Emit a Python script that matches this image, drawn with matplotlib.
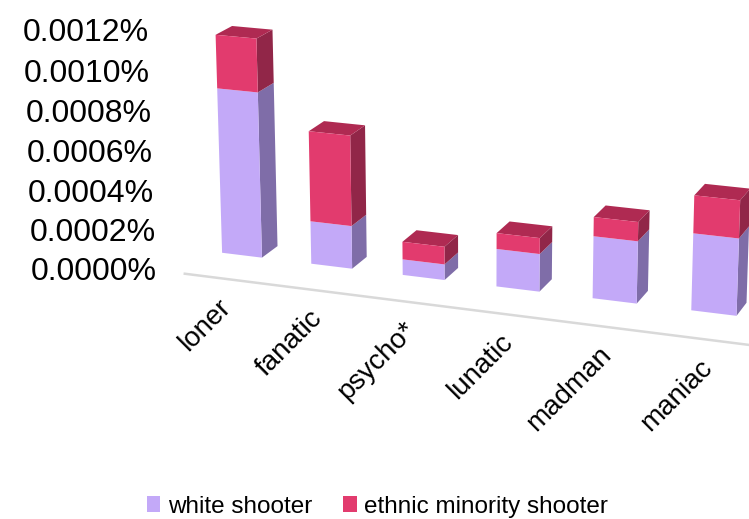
import numpy as np
import matplotlib
matplotlib.use('Agg')
import matplotlib.pyplot as plt
from matplotlib.patches import Patch
from mpl_toolkits.mplot3d import proj3d

# ---- data ----
categories = ['loner', 'fanatic', 'psycho*', 'lunatic', 'madman', 'maniac']
white_shooter = [0.00085, 0.00022, 0.00008, 0.00019, 0.00031, 0.00038]
minority_shooter = [0.00027, 0.00046, 0.00009, 0.00008, 0.000095, 0.000185]
series_names = ['white shooter', 'ethnic minority shooter']
ytick_values = [0.0, 0.0002, 0.0004, 0.0006, 0.0008, 0.0010, 0.0012]
ytick_labels = ['0.0000%', '0.0002%', '0.0004%', '0.0006%', '0.0008%', '0.0010%', '0.0012%']

plt.rcParams['font.family'] = ['Liberation Sans', 'DejaVu Sans']

# face colours: bottom, top, front, back, left, right
NONE = (1, 1, 1, 0)
white_faces = {'front': '#C3A9F8', 'top': '#A992DA', 'right': '#7F6DA8'}
pink_faces = {'front': '#E23B6E', 'top': '#AF2A52', 'right': '#912648'}

fig = plt.figure(figsize=(7.49, 5.19), dpi=100)
ax = fig.add_axes([0.082, -0.105, 1.068, 1.541], projection='3d',
                  proj_type='persp', focal_length=0.6)
ax.set_axis_off()

xmin, xmax = -0.6, 5.6
floor_x0 = -0.3
ax.set_xlim(xmin, xmax)
ax.set_ylim(0, 1.5)
ax.set_zlim(0, 0.0012)
ax.set_box_aspect((6.05, 1.5, 2.42), zoom=0.845)
ax.view_init(elev=17, azim=-70)

bw, bd, y0 = 0.45, 0.38, 0.7
n = len(categories)
xs, ys, zs, dxs, dys, dzs, cols = [], [], [], [], [], [], []
for i in range(n):
    w, m = white_shooter[i], minority_shooter[i]
    xs.append(i - bw / 2); ys.append(y0); zs.append(0)
    dxs.append(bw); dys.append(bd); dzs.append(w)
    cols += [NONE, NONE if m > 0 else white_faces['top'], white_faces['front'],
             NONE, NONE, white_faces['right']]
    xs.append(i - bw / 2); ys.append(y0); zs.append(w)
    dxs.append(bw); dys.append(bd); dzs.append(m)
    cols += [NONE, pink_faces['top'], pink_faces['front'],
             NONE, NONE, pink_faces['right']]

ax.bar3d(xs, ys, zs, dxs, dys, dzs, color=cols, shade=False,
         edgecolor='none', linewidth=0)

# floor front edge
ax.plot([floor_x0, xmax], [0, 0], [0, 0], color='#d9d9d9', lw=1.8)

M = ax.get_proj()

# value-axis labels along the front-left edge
for v, lab in zip(ytick_values, ytick_labels):
    px, py, _ = proj3d.proj_transform(floor_x0, 0, v, M)
    ax.annotate(lab, xy=(px, py), xycoords='data', xytext=(-20, 1),
                textcoords='offset points', ha='right', va='center',
                fontsize=23, annotation_clip=False)

# category labels, rotated 45 degrees below the floor edge
for i, c in enumerate(categories):
    px, py, _ = proj3d.proj_transform(i, 0, 0, M)
    ax.annotate(c, xy=(px, py), xycoords='data', xytext=(4, -12),
                textcoords='offset points', rotation=45, ha='right',
                va='top', fontsize=20, rotation_mode='anchor',
                annotation_clip=False)

handles = [Patch(facecolor=white_faces['front'], edgecolor='none'),
           Patch(facecolor=pink_faces['front'], edgecolor='none')]
fig.legend(handles, series_names, loc='lower center', ncol=2, frameon=False,
           fontsize=17.5, handlelength=0.55, handleheight=0.65,
           handletextpad=0.3, columnspacing=1.3, bbox_to_anchor=(0.504, -0.04))

fig.savefig('out.png', dpi=100)
